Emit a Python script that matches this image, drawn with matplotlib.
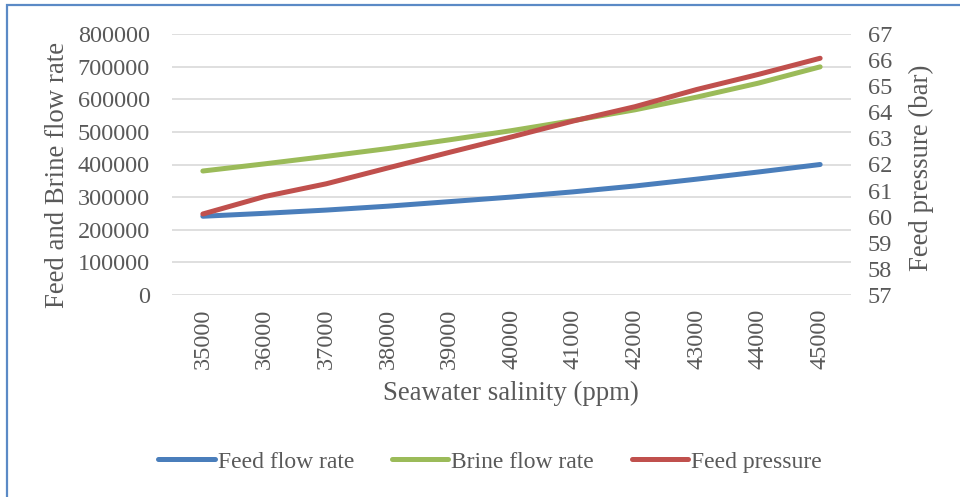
import matplotlib
matplotlib.use("Agg")
import matplotlib.pyplot as plt
from matplotlib.patches import Rectangle

# Data
salinity = [35000, 36000, 37000, 38000, 39000, 40000, 41000, 42000, 43000, 44000, 45000]
feed_flow = [241000, 250000, 260000, 272000, 286000, 300000, 316000, 334000, 355000, 377000, 400000]
brine_flow = [380000, 402000, 425000, 449000, 476000, 504000, 535000, 568000, 607000, 650000, 700000]
feed_pressure = [60.1, 60.77, 61.26, 61.87, 62.47, 63.06, 63.67, 64.22, 64.88, 65.46, 66.08]

left_ticks = [0, 100000, 200000, 300000, 400000, 500000, 600000, 700000, 800000]
right_ticks = [57, 58, 59, 60, 61, 62, 63, 64, 65, 66, 67]

BLUE = "#4A7EBB"
GREEN = "#9BBB59"
RED = "#C0504D"
TEXT = "#595959"
GRID = "#D9D9D9"

plt.rcParams["font.family"] = ["Liberation Serif", "DejaVu Serif"]

fig = plt.figure(figsize=(9.6, 4.97), dpi=100)
fig.patch.set_facecolor("white")

# Chart frame
fig.patches.append(Rectangle((7 / 960, -0.05), 1.2, 1 - 5 / 497 + 0.05,
                             transform=fig.transFigure, fill=False,
                             edgecolor="#5B8AC6", linewidth=1.6))

ax = fig.add_axes([172 / 960, 1 - 294.7 / 497, (851 - 172) / 960, (294.7 - 34.3) / 497])
ax2 = ax.twinx()

x = list(range(len(salinity)))
l1, = ax.plot(x, feed_flow, color=BLUE, lw=3.6, solid_capstyle="round", zorder=3)
l2, = ax.plot(x, brine_flow, color=GREEN, lw=3.6, solid_capstyle="round", zorder=3)
l3, = ax2.plot(x, feed_pressure, color=RED, lw=3.6, solid_capstyle="round", zorder=3)

ax.set_xlim(-0.5, len(salinity) - 0.5)
ax.set_ylim(0, 800000)
ax2.set_ylim(57, 67)
ax.set_yticks(left_ticks)
ax.set_yticklabels([str(v) for v in left_ticks])
ax2.set_yticks(right_ticks)
ax.set_xticks(x)
ax.set_xticklabels([str(s) for s in salinity], rotation=90)

ax.grid(axis="y", color=GRID, lw=1.2)
ax.set_axisbelow(True)
for a in (ax, ax2):
    for s in a.spines.values():
        s.set_visible(False)
    a.tick_params(length=0, colors=TEXT, labelsize=17.5)
ax.tick_params(axis="y", pad=16)
ax.tick_params(axis="x", pad=10)
ax2.tick_params(axis="y", pad=12)

w_px, h_px = 851 - 172, 294.7 - 34.3
ax.set_ylabel("Feed and Brine flow rate", color=TEXT, fontsize=19.3, va="center")
ax.yaxis.set_label_coords((58 - 172) / w_px, 0.5 - (175.5 - 164.5) / h_px)
ax2.set_ylabel("Feed pressure (bar)", color=TEXT, fontsize=19.3, va="center", rotation=90)
ax2.yaxis.set_label_coords((921 - 172) / w_px, 0.5 - (167.5 - 164.5) / h_px)
ax.set_xlabel("Seawater salinity (ppm)", color=TEXT, fontsize=19.3, va="center")
ax.xaxis.set_label_coords((510.5 - 172) / w_px, (294.7 - 393) / h_px)

leg = fig.legend([l1, l2, l3], ["Feed flow rate", "Brine flow rate", "Feed pressure"],
                 loc="center", bbox_to_anchor=(490 / 960, 1 - 462 / 497), ncol=3,
                 frameon=False, fontsize=17, handlelength=2.4, handletextpad=0.12,
                 columnspacing=1.6, labelcolor=TEXT)

fig.savefig("out.png", dpi=100, facecolor="white")
